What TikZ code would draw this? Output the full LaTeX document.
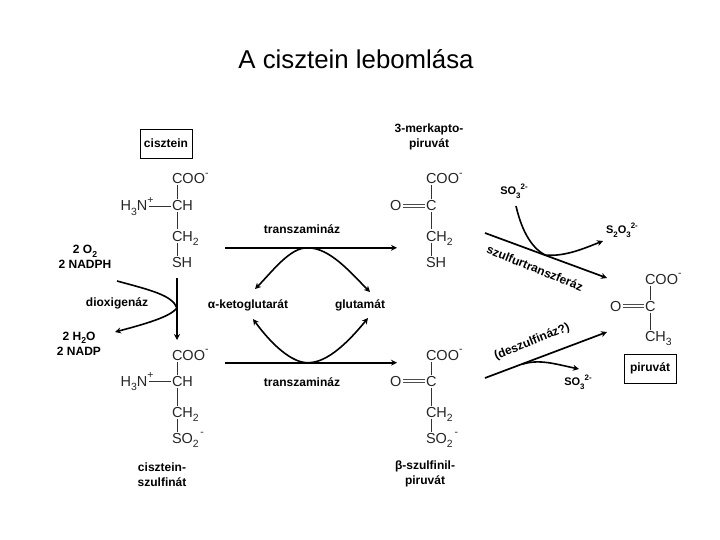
\documentclass[tikz,border=0pt]{standalone}
\usepackage{fontspec}
\setmainfont{Liberation Sans}
\usetikzlibrary{arrows.meta}
\newcommand{\lsub}[1]{\raisebox{-.28em}{\fontsize{.72em}{1em}\selectfont #1}}
\newcommand{\lsup}[1]{\raisebox{.5em}{\fontsize{.72em}{1em}\selectfont #1}}
\tikzset{
  chem/.style={inner sep=0pt,outer sep=1.5pt,anchor=west,text height=10pt,text depth=0pt,font=\fontsize{14.5}{16}\selectfont,text=black!85},
  lbl/.style={inner sep=0pt,align=center,font=\bfseries\fontsize{12}{15}\selectfont},
  small/.style={inner sep=0pt,align=center,font=\bfseries\fontsize{11}{15}\selectfont},
  boxed/.style={draw,line width=.8pt,inner sep=0pt,align=center,font=\bfseries\fontsize{12}{15}\selectfont},
  bond/.style={line width=.9pt,black!80},
  dbl/.style={line width=.8pt,black!70},
  main/.style={line width=1.7pt,-{Stealth[length=6pt,width=6pt]}},
  side/.style={line width=1.6pt,-{Stealth[length=6pt,width=6pt]}},
  plain/.style={line width=1.6pt}
}
\begin{document}
\begin{tikzpicture}[x=1pt,y=-1pt]
\useasboundingbox (0,0) rectangle (720,540);
\node[inner sep=0pt,font=\fontsize{25.8}{30}\selectfont] (title) at (356,59) {A cisztein lebomlása};
% boxes and names
\node[boxed,minimum width=52pt,minimum height=29pt] (bc) at (166,143.5) {cisztein};
\node[boxed,minimum width=52pt,minimum height=29pt] (bp) at (650,368.5) {piruvát};
\node[lbl] (mp) at (429,137) {3-merkapto-\\piruvát};
\node[lbl] (cs) at (162,474.5) {cisztein-\\szulfinát};
\node[lbl] (bs) at (425,473.5) {β-szulfinil-\\piruvát};
% molecule A
\node[chem] (a1) at (170.5,179) {COO\lsup{-}};
\node[chem] (a2) at (170.5,206) {CH};
\node[chem] (a3) at (170.5,236) {CH\lsub{2}};
\node[chem] (a4) at (170.5,262) {SH};
\node[chem,anchor=east] (a5) at (155,206) {H\lsub{3}N\lsup{+}};
\draw[bond] ([xshift=6.5pt]a1.south west) -- ([xshift=6.5pt]a2.north west);
\draw[bond] ([xshift=6.5pt]a2.south west) -- ([xshift=6.5pt]a3.north west);
\draw[bond] ([xshift=6.5pt]a3.south west) -- ([xshift=6.5pt]a4.north west);
\draw[bond] ([xshift=-6pt]a5.east) -- (a2.west);
% molecule B
\node[chem] (b1) at (170.5,355) {COO\lsup{-}};
\node[chem] (b2) at (170.5,381) {CH};
\node[chem] (b3) at (170.5,412) {CH\lsub{2}};
\node[chem] (b4) at (170.5,438) {SO\lsub{2}\lsup{\,-}};
\node[chem,anchor=east] (b5) at (155,381) {H\lsub{3}N\lsup{+}};
\draw[bond] ([xshift=6.5pt]b1.south west) -- ([xshift=6.5pt]b2.north west);
\draw[bond] ([xshift=6.5pt]b2.south west) -- ([xshift=6.5pt]b3.north west);
\draw[bond] ([xshift=6.5pt]b3.south west) -- ([xshift=6.5pt]b4.north west);
\draw[bond] ([xshift=-6pt]b5.east) -- (b2.west);
% molecule C
\node[chem] (c1) at (424.5,179) {COO\lsup{-}};
\node[chem] (c2) at (424.5,206) {C};
\node[chem] (c3) at (424.5,236) {CH\lsub{2}};
\node[chem] (c4) at (424.5,262) {SH};
\node[chem,anchor=east] (c5) at (403,206) {O};
\draw[bond] ([xshift=6.5pt]c1.south west) -- ([xshift=6.5pt]c2.north west);
\draw[bond] ([xshift=6.5pt]c2.south west) -- ([xshift=6.5pt]c3.north west);
\draw[bond] ([xshift=6.5pt]c3.south west) -- ([xshift=6.5pt]c4.north west);
\draw[dbl] ([yshift=1.2pt]c5.east) -- ([yshift=1.2pt]c2.west);
\draw[dbl] ([yshift=-1.2pt]c5.east) -- ([yshift=-1.2pt]c2.west);
% molecule D
\node[chem] (d1) at (424.5,355) {COO\lsup{-}};
\node[chem] (d2) at (424.5,381) {C};
\node[chem] (d3) at (424.5,412) {CH\lsub{2}};
\node[chem] (d4) at (424.5,438) {SO\lsub{2}\lsup{\,-}};
\node[chem,anchor=east] (d5) at (403,381) {O};
\draw[bond] ([xshift=6.5pt]d1.south west) -- ([xshift=6.5pt]d2.north west);
\draw[bond] ([xshift=6.5pt]d2.south west) -- ([xshift=6.5pt]d3.north west);
\draw[bond] ([xshift=6.5pt]d3.south west) -- ([xshift=6.5pt]d4.north west);
\draw[dbl] ([yshift=1.2pt]d5.east) -- ([yshift=1.2pt]d2.west);
\draw[dbl] ([yshift=-1.2pt]d5.east) -- ([yshift=-1.2pt]d2.west);
% molecule E
\node[chem] (e1) at (643.5,279) {COO\lsup{-}};
\node[chem] (e2) at (643.5,306) {C};
\node[chem] (e3) at (643.5,336) {CH\lsub{3}};
\node[chem,anchor=east] (e5) at (623,306) {O};
\draw[bond] ([xshift=6.5pt]e1.south west) -- ([xshift=6.5pt]e2.north west);
\draw[bond] ([xshift=6.5pt]e2.south west) -- ([xshift=6.5pt]e3.north west);
\draw[dbl] ([yshift=1.2pt]e5.east) -- ([yshift=1.2pt]e2.west);
\draw[dbl] ([yshift=-1.2pt]e5.east) -- ([yshift=-1.2pt]e2.west);
% labels
\node[small] (l1) at (514,191) {SO\lsub{3}\lsup{2-}};
\node[small] (l2) at (622,230) {S\lsub{2}O\lsub{3}\lsup{2-}};
\node[small] (l3) at (578,382) {SO\lsub{3}\lsup{2-}};
\node[lbl] (t1) at (302,229) {transzamináz};
\node[lbl] (t2) at (302,382) {transzamináz};
\node[lbl] (k) at (248,305) {α-ketoglutarát};
\node[lbl] (g) at (360,305) {glutamát};
\node[lbl] (dx) at (117,303) {dioxigenáz};
\node[lbl] (o2) at (85,257) {2 O\lsub{2}\\2 NADPH};
\node[lbl] (h2o) at (79,343.5) {2 H\lsub{2}O\\2 NADP};
\node[lbl,rotate=-22] (sz) at (535,268) {szulfurtranszferáz};
\node[lbl,rotate=22] (ds) at (532,342) {(deszulfináz?)};
% coordinates
\coordinate (v0) at (177,278); \coordinate (v1) at (177,340);
\coordinate (o0) at (117,281); \coordinate (vm) at (177,308); \coordinate (o1) at (115,332);
\coordinate (f0) at (225,247.8); \coordinate (f1) at (397,247.8);
\coordinate (g0) at (225,362.7); \coordinate (g1) at (397,362.7);
\coordinate (tm) at (308,247.8); \coordinate (bm) at (308,362.7);
\coordinate (ka) at (255,289); \coordinate (ga) at (370,292);
\coordinate (kb) at (253,319); \coordinate (gb) at (368,318);
\coordinate (s0) at (485,233); \coordinate (s1) at (607,278); \coordinate (sm) at (545,255);
\coordinate (w0) at (516,206); \coordinate (w1) at (603,241);
\coordinate (x0) at (485,378); \coordinate (x1) at (607,332);
\coordinate (xm) at (523,364); \coordinate (x2) at (579,369);
% arrows
\draw[main] (v0) -- (v1);
\draw[plain] (o0) .. controls (150,290) and (172,295) .. (vm);
\draw[side] (vm) .. controls (170,317) and (145,324) .. (o1);
\draw[main] (f0) -- (f1);
\draw[main] (g0) -- (g1);
\draw[side] (tm) .. controls (290,247) and (272,272) .. (ka);
\draw[side] (tm) .. controls (330,248) and (350,272) .. (ga);
\draw[side] (bm) .. controls (292,363) and (272,345) .. (kb);
\draw[side] (bm) .. controls (328,363) and (350,340) .. (gb);
\draw[main] (s0) -- (s1);
\draw[plain] (w0) .. controls (522,232) and (532,248) .. (sm);
\draw[side] (sm) .. controls (565,257) and (585,248) .. (w1);
\draw[main] (x0) -- (x1);
\draw[side] (xm) .. controls (540,359) and (555,364) .. (x2);
\end{tikzpicture}
\end{document}
